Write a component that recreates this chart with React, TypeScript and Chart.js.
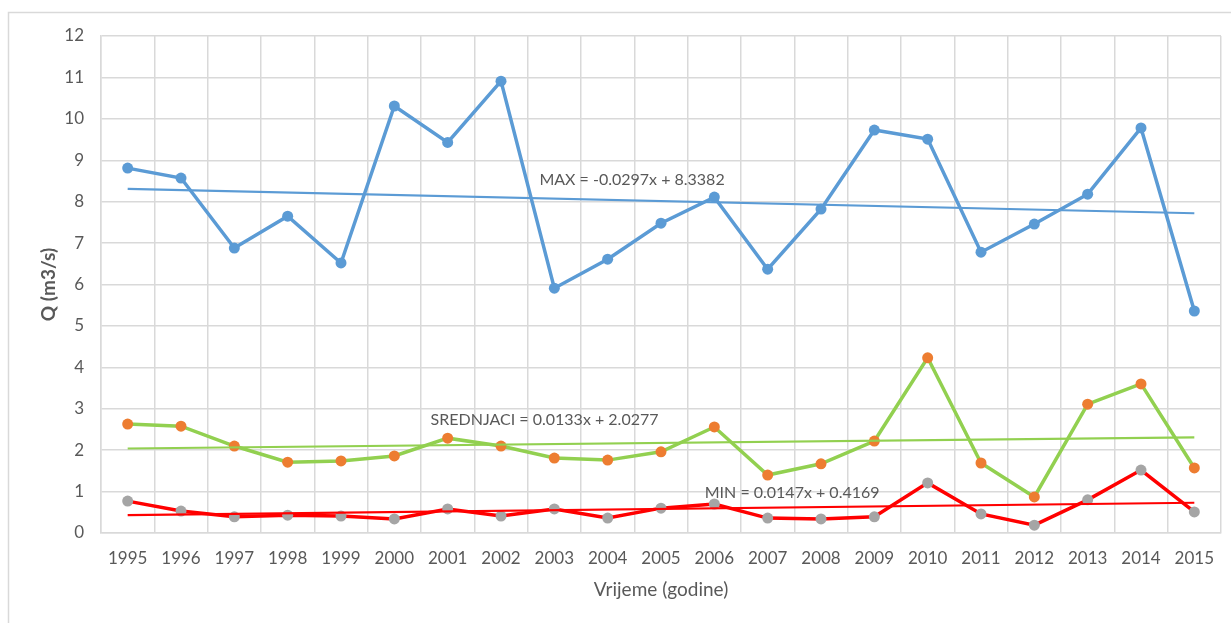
import React, { useEffect, useRef } from "react";
import { Chart, registerables } from "chart.js";

Chart.register(...registerables);

const years = ["1995","1996","1997","1998","1999","2000","2001","2002","2003","2004","2005","2006","2007","2008","2009","2010","2011","2012","2013","2014","2015"];
const maxValues = [8.81, 8.57, 6.88, 7.65, 6.52, 10.31, 9.43, 10.91, 5.91, 6.61, 7.48, 8.11, 6.37, 7.82, 9.73, 9.51, 6.78, 7.46, 8.18, 9.78, 5.36];
const meanValues = [2.63, 2.58, 2.10, 1.71, 1.74, 1.86, 2.29, 2.10, 1.81, 1.76, 1.96, 2.56, 1.40, 1.67, 2.22, 4.23, 1.69, 0.87, 3.11, 3.60, 1.57];
const minValues = [0.77, 0.53, 0.39, 0.43, 0.41, 0.34, 0.58, 0.41, 0.58, 0.36, 0.60, 0.70, 0.36, 0.34, 0.39, 1.21, 0.46, 0.19, 0.80, 1.52, 0.51];

// trend line end values (first year, last year)
const maxTrendEnds = [8.31, 7.72];
const meanTrendEnds = [2.04, 2.31];
const minTrendEnds = [0.43, 0.73];

const trendLabels = ["MAX = -0.0297x + 8.3382", "SREDNJACI = 0.0133x + 2.0277", "MIN = 0.0147x + 0.4169"];
const trendLabelX = [7.72, 5.68, 10.82];
const trendLabelY = [8.52, 2.73, 0.97];

const yTitle = "Q (m3/s)";
const xTitle = "Vrijeme (godine)";

const FONT = "Lato, 'Open Sans', sans-serif";
const TEXT = "#595959";
const GRID = "#D9D9D9";

function trendSeries(ends: number[]) {
  return years.map((_, i) => (i === 0 ? ends[0] : i === years.length - 1 ? ends[1] : null));
}

export default function App() {
  const ref = useRef<HTMLCanvasElement | null>(null);
  useEffect(() => {
    if (!ref.current) return;
    const bgPlugin = {
      id: "bg",
      beforeDraw(chart: any) {
        const c = chart.ctx;
        c.save();
        c.fillStyle = "#ffffff";
        c.fillRect(0, 0, chart.width, chart.height);
        c.strokeStyle = GRID;
        c.lineWidth = 1.5;
        c.beginPath();
        c.moveTo(8.5, chart.height);
        c.lineTo(8.5, 12.5);
        c.lineTo(chart.width, 12.5);
        c.stroke();
        c.restore();
      },
    };
    const labelPlugin = {
      id: "trendLabels",
      afterDatasetsDraw(chart: any) {
        const c = chart.ctx;
        const xs = chart.scales.x;
        const ys = chart.scales.y;
        c.save();
        c.font = `16px ${FONT}`;
        c.fillStyle = TEXT;
        c.textAlign = "left";
        c.textBaseline = "middle";
        trendLabels.forEach((t, i) => {
          c.fillText(t, xs.getPixelForValue(trendLabelX[i]), ys.getPixelForValue(trendLabelY[i]));
        });
        c.restore();
      },
    };
    const chart = new Chart(ref.current, {
      type: "line",
      data: {
        labels: years,
        datasets: [
          { label: "MAX trend", data: trendSeries(maxTrendEnds), borderColor: "#5B9BD5", borderWidth: 2.2, pointRadius: 0, spanGaps: true },
          { label: "SREDNJACI trend", data: trendSeries(meanTrendEnds), borderColor: "#92D050", borderWidth: 2.2, pointRadius: 0, spanGaps: true },
          { label: "MIN trend", data: trendSeries(minTrendEnds), borderColor: "#FF0000", borderWidth: 2.2, pointRadius: 0, spanGaps: true },
          { label: "MAX", data: maxValues, borderColor: "#5B9BD5", backgroundColor: "#5B9BD5", borderWidth: 3.5, pointRadius: 5.5, pointBorderWidth: 0, pointBackgroundColor: "#5B9BD5" },
          { label: "SREDNJACI", data: meanValues, borderColor: "#92D050", backgroundColor: "#ED7D31", borderWidth: 3.5, pointRadius: 5.5, pointBorderWidth: 0, pointBackgroundColor: "#ED7D31" },
          { label: "MIN", data: minValues, borderColor: "#FF0000", backgroundColor: "#A5A5A5", borderWidth: 3.5, pointRadius: 5.5, pointBorderWidth: 0, pointBackgroundColor: "#A5A5A5" },
        ],
      },
      options: {
        responsive: false,
        animation: false,
        layout: { padding: { top: 36, right: 10, bottom: 0, left: 0 } },
        plugins: { legend: { display: false }, tooltip: { enabled: false } },
        elements: { line: { tension: 0 } },
        scales: {
          x: {
            offset: true,
            grid: { color: GRID, lineWidth: 1.5, offset: true, drawTicks: false },
            border: { color: GRID, width: 1.5 },
            ticks: { color: TEXT, font: { family: FONT, size: 17 }, padding: 15, maxRotation: 0, autoSkip: false },
            title: { display: true, text: xTitle, color: TEXT, font: { family: FONT, size: 19 }, padding: { top: 0, bottom: 22 } },
            afterFit(scale: any) { scale.height = 90; },
          },
          y: {
            min: 0,
            max: 12,
            grid: { color: GRID, lineWidth: 1.5, drawTicks: false },
            border: { color: GRID, width: 1.5 },
            ticks: { stepSize: 1, color: TEXT, font: { family: FONT, size: 17 }, padding: 17 },
            title: { display: true, text: yTitle, color: TEXT, font: { family: FONT, size: 19, weight: "bold" }, padding: { top: 37, bottom: 0 } },
            afterFit(scale: any) { scale.width = 101; },
          },
        },
      },
      plugins: [bgPlugin, labelPlugin],
    });
    return () => chart.destroy();
  }, []);
  return (
    <div style={{ position: "fixed", left: 0, top: 0, width: 1231, height: 623 }}>
      <canvas ref={ref} width={1231} height={623} style={{ display: "block", width: 1231, height: 623 }} />
    </div>
  );
}
